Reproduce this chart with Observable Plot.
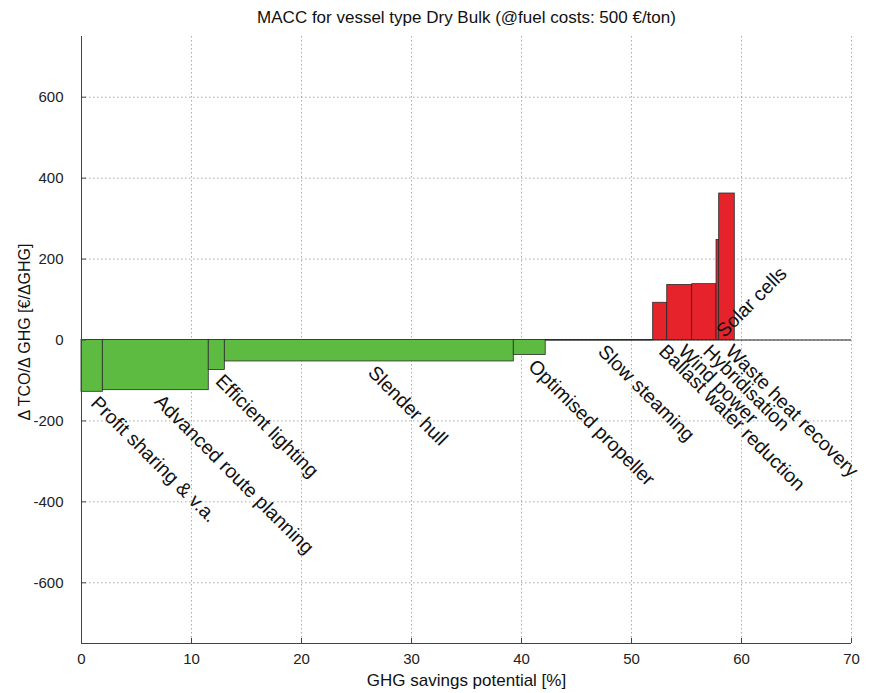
<!DOCTYPE html>
<html><head><meta charset="utf-8">
<script src="https://cdn.jsdelivr.net/npm/d3@7"></script>
<script src="https://cdn.jsdelivr.net/npm/@observablehq/plot@0.6"></script>
<style>body{margin:0;background:#fff} #chart{width:869px}</style>
</head><body><div id="chart"></div>
<script>
const title = "MACC for vessel type Dry Bulk (@fuel costs: 500 €/ton)";
const xLabel = "GHG savings potential [%]";
const yLabel = "Δ TCO/Δ GHG [€/ΔGHG]";
const measures = ["Profit sharing & v.a.", "Advanced route planning", "Efficient lighting", "Slender hull", "Optimised propeller", "Slow steaming", "Ballast water reduction", "Wind power", "Hybridisation", "Solar cells", "Waste heat recovery"];
const savings = [1.94, 9.63, 1.46, 26.27, 2.9, 9.77, 1.28, 2.27, 2.21, 0.24, 1.42];
const costs = [-128, -124, -74, -53, -37, -1, 92, 136, 138, 247, 362];
const xTicks = [0, 10, 20, 30, 40, 50, 60, 70];
const yTicks = [-600, -400, -200, 0, 200, 400, 600];

const ends = d3.cumsum(savings);
const data = measures.map((m, i) => ({
  m, x1: ends[i] - savings[i], x2: ends[i], xm: ends[i] - savings[i] / 2, cost: costs[i]
}));
const font = "'Liberation Sans', Arial, sans-serif";
const green = "#5dbb42", red = "#e6232b";
const W = 869, H = 693, mL = 81, mR = 18, mT = 36, mB = 50;
const frameW = W - mL - mR, frameH = H - mT - mB, tickLen = 5;

const chart = Plot.plot({
  width: W, height: H,
  marginLeft: mL, marginRight: mR, marginTop: mT, marginBottom: mB,
  style: {fontFamily: font, fontSize: "15px", color: "#222", background: "#fff"},
  x: {domain: [0, 70], ticks: xTicks, label: null, tickSize: 0, tickPadding: 10, tickFormat: d => String(d)},
  y: {domain: [-750, 750], ticks: yTicks, label: null, tickSize: 0, tickPadding: 18, tickFormat: d => String(d)},
  marks: [
    Plot.ruleX(xTicks.slice(1), {stroke: "#888", strokeOpacity: 0.7, strokeDasharray: "1.5,2.5"}),
    Plot.ruleY(yTicks, {stroke: "#888", strokeOpacity: 0.7, strokeDasharray: "1.5,2.5"}),
    Plot.ruleY([0], {stroke: "#222", strokeWidth: 1.2}),
    Plot.rect(data, {x1: "x1", x2: "x2", y1: d => 0, y2: "cost", fill: d => d.cost < 0 ? green : red, stroke: "#2a2a2a", strokeWidth: 0.8}),
    Plot.ruleX([0], {stroke: "#444"}),
    Plot.ruleY([-750], {stroke: "#444"}),
    Plot.tickX(xTicks, {x: d => d, stroke: "#444", insetTop: frameH - tickLen}),
    Plot.tickY(yTicks, {y: d => d, stroke: "#444", insetRight: frameW - tickLen}),
    Plot.text(data.filter(d => d.m !== "Solar cells"), {x: "xm", y: d => Math.min(0, d.cost), text: "m", rotate: 45, textAnchor: "start", dx: 2, dy: 8, fontSize: 19.5, fill: "#111"}),
    Plot.text(data.filter(d => d.m === "Solar cells"), {x: "xm", y: d => 0, text: "m", rotate: -45, textAnchor: "start", dx: 2, dy: -6, fontSize: 19.5, fill: "#111"}),
    Plot.text([title], {frameAnchor: "top", textAnchor: "middle", lineAnchor: "middle", dy: -19, fontSize: 17, fill: "#111"}),
    Plot.text([xLabel], {frameAnchor: "bottom", textAnchor: "middle", lineAnchor: "middle", dy: 37, fontSize: 17, fill: "#111"}),
    Plot.text([yLabel], {frameAnchor: "left", textAnchor: "middle", lineAnchor: "middle", dx: -57, dy: -8, rotate: -90, fontSize: 16, fill: "#111"})
  ]
});
document.getElementById("chart").append(chart);
</script>
</body></html>
